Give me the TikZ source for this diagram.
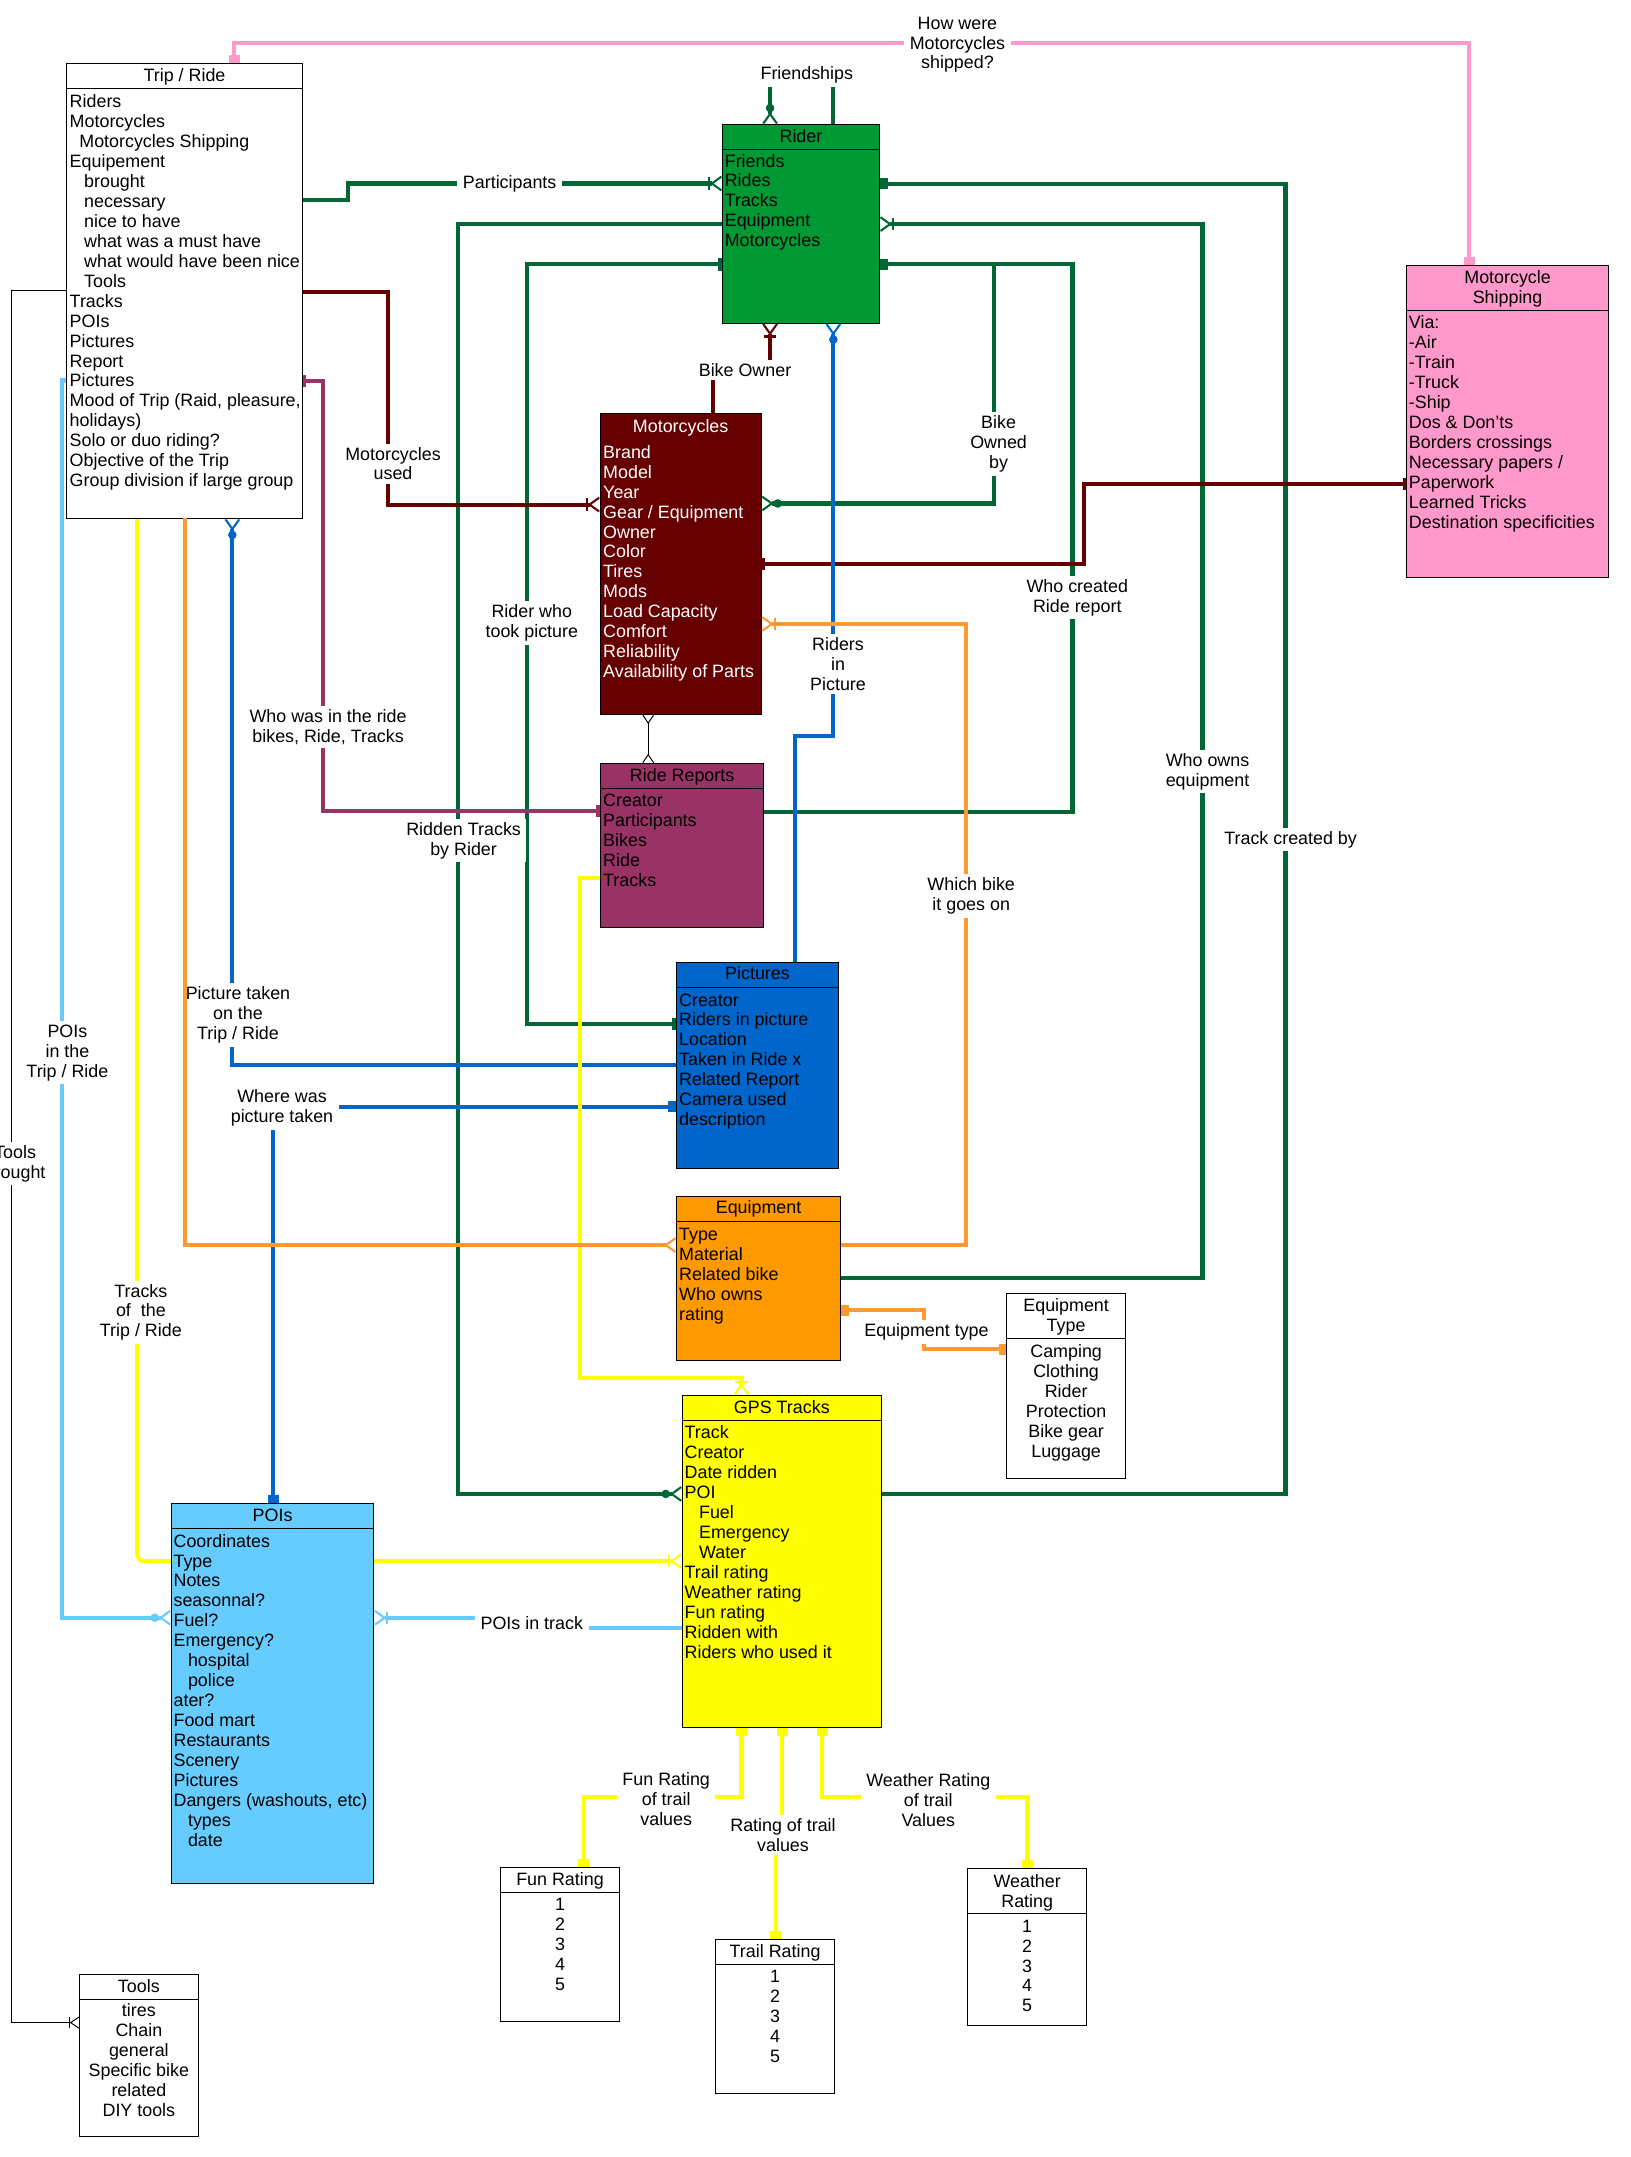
\documentclass[tikz,border=0pt]{standalone}
\usepackage{fontspec}
\setmainfont{Liberation Sans}
\usetikzlibrary{arrows.meta}
\pgfdeclarelayer{bg}
\pgfsetlayers{bg,main}

\definecolor{riderg}{HTML}{009933}
\definecolor{darkg}{HTML}{006633}
\definecolor{maroon}{HTML}{660000}
\definecolor{plum}{HTML}{993366}
\definecolor{picblue}{HTML}{0066CC}
\definecolor{skyb}{HTML}{66CCFF}
\definecolor{orline}{HTML}{FF9933}
\definecolor{orfill}{HTML}{FF9900}
\definecolor{yel}{HTML}{FFFF00}
\definecolor{pinky}{HTML}{FF99CC}

% strut for the first line of a text block
\newcommand{\sr}{\rule{0pt}{10pt}}

\tikzset{
  Blk/.tip={Rectangle[length=6pt,width=8pt]},
  TwoBar/.tip={Bar[width=9pt,line width=1.5pt] Bar[width=9pt,line width=1.5pt]},
  Crow/.tip={Straight Barb[reversed,length=7pt,width=10pt,line width=1.5pt]},
  CrowBar/.tip={Bar[width=9pt,line width=1.5pt] Straight Barb[reversed,length=7pt,width=10pt,line width=1.5pt]},
  OCrow/.tip={Circle[length=6pt] Straight Barb[reversed,length=7pt,width=10pt,line width=1.5pt]},
  TCrow/.tip={Straight Barb[reversed,length=6pt,width=8pt]},
  TCrowBar/.tip={Bar[width=8pt] Straight Barb[reversed,length=6pt,width=8pt]},
}

\begin{document}
\begin{tikzpicture}[
  x=1pt, y=-1pt,
  font=\fontsize{13}{14.5}\selectfont,
  ent/.style={draw, line width=0.7pt, anchor=north west, inner sep=0pt, outer sep=0pt},
  hdr/.style={line width=0.7pt},
  ttl/.style={anchor=north, inner sep=0pt, align=center},
  body/.style={anchor=north west, inner sep=0pt, align=left},
  vals/.style={anchor=north, inner sep=0pt, align=center},
  lbl/.style={fill=white, inner ysep=2.5pt, inner xsep=4pt, align=center},
  rel/.style={line width=3pt},
  blackln/.style={line width=0.7pt},
]
\useasboundingbox (0,0) rectangle (1185,1568);
\begin{pgfonlayer}{bg}
\fill[white] (0,0) rectangle (1185,1568);
\end{pgfonlayer}

% entities
\node[ent, minimum width=171.3pt, minimum height=330.5pt] (trip) at (48.5,46.3) {};
\node[ent, fill=riderg, minimum width=114.1pt, minimum height=144.2pt] (rider) at (525.2,90.6) {};
\node[ent, fill=pinky, minimum width=146.6pt, minimum height=226.5pt] (ship) at (1022.6,193.1) {};
\node[ent, fill=maroon, minimum width=117pt, minimum height=218.9pt] (moto) at (436.3,300.4) {};
\node[ent, fill=plum, minimum width=118.5pt, minimum height=119.4pt] (report) at (436.6,554.9) {};
\node[ent, fill=picblue, minimum width=117.7pt, minimum height=150pt] (pic) at (491.8,699.6) {};
\node[ent, fill=orfill, minimum width=119.3pt, minimum height=119.2pt] (equip) at (491.8,869.8) {};
\node[ent, minimum width=86.2pt, minimum height=134.5pt] (etype) at (731.9,940.3) {};
\node[ent, fill=yel, minimum width=144.7pt, minimum height=241.4pt] (gps) at (496,1014.4) {};
\node[ent, fill=skyb, minimum width=147.3pt, minimum height=276.2pt] (poi) at (124.5,1093) {};
\node[ent, minimum width=86.2pt, minimum height=111.8pt] (fun) at (364,1357.5) {};
\node[ent, minimum width=86.5pt, minimum height=112pt] (trail) at (520.2,1409.9) {};
\node[ent, minimum width=86.4pt, minimum height=114.1pt] (weather) at (703.5,1358.3) {};
\node[ent, minimum width=86.5pt, minimum height=117.6pt] (tools) at (57.7,1435.6) {};

\foreach \b/\h in {trip/64.3, rider/108.6, ship/225.6, report/573, pic/717.8, equip/888.2,
                   etype/972.7, gps/1032.6, poi/1111.1, fun/1376, trail/1428.1, weather/1391, tools/1453.2}
  \draw[hdr] (\b.west |- 0,\h) -- (\b.east |- 0,\h);

% titles
\node[ttl] (tripT) at (trip.north |- 0,49.3) {\sr Trip / Ride};
\node[ttl] (riderT) at (rider.north |- 0,93.7) {\sr Rider};
\node[ttl] (shipT) at (ship.north |- 0,195.9) {\sr Motorcycle\\Shipping};
\node[ttl, text=white] (motoT) at (moto.north |- 0,304.2) {\sr Motorcycles};
\node[ttl] (reportT) at (report.north |- 0,558.1) {\sr Ride Reports};
\node[ttl] (picT) at (pic.north |- 0,701.7) {\sr Pictures};
\node[ttl] (equipT) at (equip.north |- 0,872.1) {\sr Equipment};
\node[ttl] (etypeT) at (etype.north |- 0,943.3) {\sr Equipment\\Type};
\node[ttl] (gpsT) at (gps.north |- 0,1017) {\sr GPS Tracks};
\node[ttl] (poiT) at (poi.north |- 0,1095.5) {\sr POIs};
\node[ttl] (funT) at (fun.north |- 0,1360.4) {\sr Fun Rating};
\node[ttl] (trailT) at (trail.north |- 0,1412.8) {\sr Trail Rating};
\node[ttl] (weatherT) at (weather.north |- 0,1361.6) {\sr Weather\\Rating};
\node[ttl] (toolsT) at (tools.north |- 0,1438.3) {\sr Tools};

% attributes
\node[body] (tripB) at (50.5,68.1) {\sr Riders\\Motorcycles\\\hspace*{7pt}Motorcycles Shipping\\Equipement\\
  \hspace*{10.5pt}brought\\\hspace*{10.5pt}necessary\\\hspace*{10.5pt}nice to have\\\hspace*{10.5pt}what was a must have\\
  \hspace*{10.5pt}what would have been nice\\\hspace*{10.5pt}Tools\\Tracks\\POIs\\Pictures\\Report\\Pictures\\
  Mood of Trip (Raid, pleasure,\\holidays)\\Solo or duo riding?\\Objective of the Trip\\Group division if large group};
\node[body] (riderB) at (526.7,111.2) {\sr Friends\\Rides\\Tracks\\Equipment\\Motorcycles};
\node[body] (shipB) at (1024,228.7) {\sr Via:\\-Air\\-Train\\-Truck\\-Ship\\Dos \& Don'ts\\Borders crossings\\
  Necessary papers /\\Paperwork\\Learned Tricks\\Destination specificities};
\node[body, text=white] (motoB) at (438.3,322.9) {\sr Brand\\Model\\Year\\Gear / Equipment\\Owner\\Color\\Tires\\Mods\\
  Load Capacity\\Comfort\\Reliability\\Availability of Parts};
\node[body] (reportB) at (438.3,576.3) {\sr Creator\\Participants\\Bikes\\Ride\\Tracks};
\node[body] (picB) at (493.5,721.1) {\sr Creator\\Riders in picture\\Location\\Taken in Ride x\\Related Report\\Camera used\\description};
\node[body] (equipB) at (493.5,891.5) {\sr Type\\Material\\Related bike\\Who owns\\rating};
\node[body] (gpsB) at (497.5,1035.7) {\sr Track\\Creator\\Date ridden\\POI\\\hspace*{10.5pt}Fuel\\\hspace*{10.5pt}Emergency\\
  \hspace*{10.5pt}Water\\Trail rating\\Weather rating\\Fun rating\\Ridden with\\Riders who used it};
\node[body] (poiB) at (126,1114.4) {\sr Coordinates\\Type\\Notes\\seasonnal?\\Fuel?\\Emergency?\\\hspace*{10.5pt}hospital\\
  \hspace*{10.5pt}police\\ater?\\Food mart\\Restaurants\\Scenery\\Pictures\\Dangers (washouts, etc)\\
  \hspace*{10.5pt}types\\\hspace*{10.5pt}date};
\node[vals] (etypeB) at (etype.north |- 0,976.6) {\sr Camping\\Clothing\\Rider\\Protection\\Bike gear\\Luggage};
\node[vals] (funB) at (fun.north |- 0,1378.6) {\sr 1\\2\\3\\4\\5};
\node[vals] (trailB) at (trail.north |- 0,1431.2) {\sr 1\\2\\3\\4\\5};
\node[vals] (weatherB) at (weather.north |- 0,1394.3) {\sr 1\\2\\3\\4\\5};
\node[vals] (toolsB) at (tools.north |- 0,1456) {\sr tires\\Chain\\general\\Specific bike\\related\\DIY tools};

% relations
\begin{pgfonlayer}{bg}
\draw[rel, pinky, Blk-Blk] (170.4,0 |- trip.north) -- (170.4,31.5) -- (1068,31.5) -- (1068,0 |- ship.north);
\draw[rel, darkg, -CrowBar] (trip.east |- 0,145.2) -- (252.8,145.2) -- (252.8,133.4) -- (rider.west |- 0,133.4);
\draw[rel, darkg, -OCrow] (rider.west |- 0,162.9) -- (333.2,162.9) -- (333.2,1086) -- (gps.west |- 0,1086);
\draw[rel, darkg, TwoBar-TwoBar] (rider.west |- 0,192.2) -- (382.9,192.2) -- (382.9,744.2) -- (pic.west |- 0,744.2);
\draw[rel, darkg, Blk-] (rider.east |- 0,133.5) -- (934.5,133.5) -- (934.5,1086) -- (gps.east |- 0,1086);
\draw[rel, darkg, -CrowBar] (equip.east |- 0,928.8) -- (874.1,928.8) -- (874.1,162.9) -- (rider.east |- 0,162.9);
\draw[rel, darkg, Blk-] (rider.east |- 0,192.2) -- (779.6,192.2) -- (779.6,590.3) -- (report.east |- 0,590.3);
\draw[rel, darkg, -OCrow] (rider.east |- 0,192.2) -- (722.8,192.2) -- (722.8,366) -- (moto.east |- 0,366);
\draw[rel, darkg, -OCrow] (605.8,0 |- rider.north) -- (605.8,54) -- (559.8,54) -- (559.8,0 |- rider.north);
\draw[rel, maroon, -CrowBar] (trip.east |- 0,212) -- (282.3,212) -- (282.3,366.8) -- (moto.west |- 0,366.8);
\draw[rel, maroon, -CrowBar] (518.1,0 |- moto.north) -- (518.1,269) -- (559.8,269) -- (559.8,0 |- rider.south);
\draw[rel, maroon, TwoBar-TwoBar] (moto.east |- 0,410) -- (788,410) -- (788,352) -- (ship.west |- 0,352);
\draw[rel, plum, TwoBar-TwoBar] (trip.east |- 0,277) -- (234.6,277) -- (234.6,589.6) -- (report.west |- 0,589.6);
\draw[blackln, TCrow-TCrow] (471.2,0 |- moto.south) -- (471.2,0 |- report.north);
\draw[blackln, -TCrowBar] (trip.west |- 0,211) -- (8.5,211) -- (8.5,1470.3) -- (tools.west |- 0,1470.3);
\draw[rel, picblue, -OCrow] (578,0 |- pic.north) -- (578,534.9) -- (605.8,534.9) -- (605.8,0 |- rider.south);
\draw[rel, picblue, -OCrow] (pic.west |- 0,774.3) -- (168.9,774.3) -- (168.9,0 |- trip.south);
\draw[rel, picblue, Blk-Blk] (pic.west |- 0,804.4) -- (198.7,804.4) -- (198.7,0 |- poi.north);
\draw[rel, orline, -CrowBar] (equip.east |- 0,905.1) -- (702.5,905.1) -- (702.5,453.6) -- (moto.east |- 0,453.6);
\draw[rel, orline, Blk-Blk] (equip.east |- 0,952.4) -- (671.6,952.4) -- (671.6,980.7) -- (etype.west |- 0,980.7);
\draw[rel, yel, rounded corners=5pt, -CrowBar] (99.8,0 |- trip.south) -- (99.8,1134.8) -- (gps.west |- 0,1134.8);
\draw[rel, yel, -CrowBar] (report.west |- 0,638) -- (421.8,638) -- (421.8,1001.6) -- (539,1001.6) -- (539,0 |- gps.north);
\draw[rel, yel, Blk-Blk] (539,0 |- gps.south) -- (539,1306.5) -- (424.3,1306.5) -- (424.3,0 |- fun.north);
\draw[rel, yel, Blk-Blk] (568.5,0 |- gps.south) -- (568.5,1334) -- (563.9,1334) -- (563.9,0 |- trail.north);
\draw[rel, yel, Blk-Blk] (597.6,0 |- gps.south) -- (597.6,1306.5) -- (746.9,1306.5) -- (746.9,0 |- weather.north);
\draw[rel, skyb, -OCrow] (trip.west |- 0,276.6) -- (44.8,276.6) -- (44.8,1176) -- (poi.west |- 0,1176);
\draw[rel, skyb, -CrowBar] (gps.west |- 0,1183.3) -- (386,1183.3) -- (386,1176) -- (poi.east |- 0,1176);
\end{pgfonlayer}

% relation labels
\node[lbl] (lShip) at (696,32.5) {How were\\Motorcycles\\shipped?};
\node[lbl] (lPart) at (370.5,133.4) {Participants};
\node[lbl] (lFriend) at (586.5,54.5) {Friendships};
\node[lbl] (lBikeOwner) at (541.6,269) {Bike Owner};
\node[lbl] (lOwned) at (725.9,322.7) {Bike\\Owned\\by};
\node[lbl] (lMotoUsed) at (285.7,337) {Motorcycles\\used};
\node[lbl] (lCreated) at (783.1,434.5) {Who created\\Ride report};
\node[lbl] (lTookPic) at (386.6,453) {Rider who\\took picture};
\node[lbl] (lInPic) at (609.2,482.6) {Riders\\in\\Picture};
\node[lbl] (lWhoWas) at (238.5,528.4) {Who was in the ride\\bikes, Ride, Tracks};
\node[lbl] (lOwnsEq) at (877.8,561) {Who owns\\equipment};
\node[lbl] (lRidden) at (337,611) {Ridden Tracks\\by Rider};
\node[lbl] (lTrackBy) at (938.2,610.2) {Track created by};
\node[lbl] (lWhichBike) at (706,651.4) {Which bike\\it goes on};
\node[lbl] (lPicTrip) at (173,737.7) {Picture taken\\on the\\Trip / Ride};
\node[lbl] (lPoiTrip) at (49,765.4) {POIs\\in the\\Trip / Ride};
\node[lbl] (lWhere) at (205,805.5) {Where was\\picture taken};
\node[lbl] (lTools) at (11,845.8) {Tools\\brought};
\node[lbl] (lTracksTrip) at (102.4,954) {Tracks\\of\ \ the\\Trip / Ride};
\node[lbl] (lEqType) at (673.5,968.1) {Equipment type};
\node[lbl] (lPoiTrack) at (386.6,1180) {POIs in track};
\node[lbl] (lFun) at (484.3,1308) {Fun Rating\\of trail\\values};
\node[lbl] (lTrail) at (569.2,1334) {Rating of trail\\values};
\node[lbl] (lWeather) at (674.8,1308.6) {Weather Rating\\of trail\\Values};

% this one runs over its neighbour's label, as in the original
\draw[rel, orline, -Crow] (134.7,0 |- trip.south) -- (134.7,905.1) -- (equip.west |- 0,905.1);
\end{tikzpicture}
\end{document}
